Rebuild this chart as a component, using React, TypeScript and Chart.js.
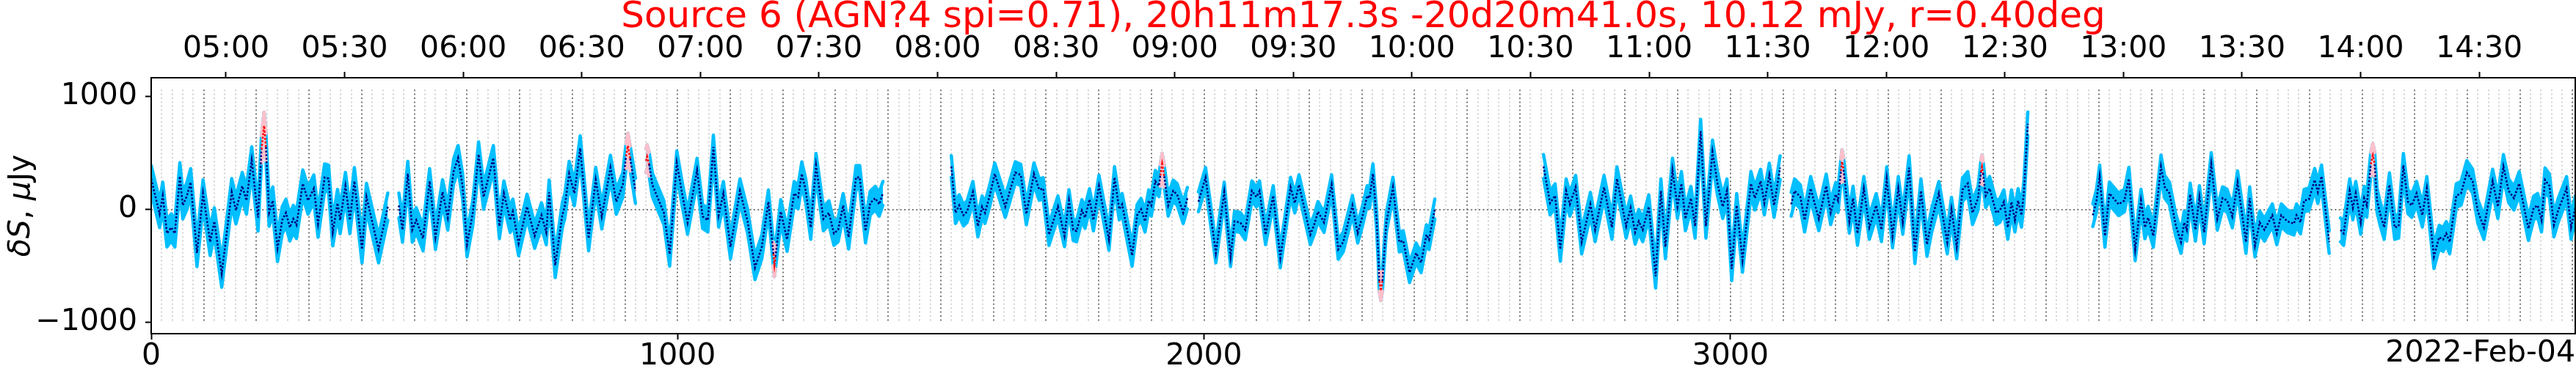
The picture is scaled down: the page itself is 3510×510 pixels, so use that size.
import React, { useEffect, useRef } from 'react';
import { Chart, registerables } from 'chart.js';

Chart.register(...registerables);

// ---------- text ----------
const TITLE = 'Source 6 (AGN?4 spi=0.71), 20h11m17.3s -20d20m41.0s, 10.12 mJy, r=0.40deg';
const DATE_LABEL = '2022-Feb-04';
const Y_LABEL_PARTS: [string, boolean][] = [['δS', true], [', ', false], ['μ', true], ['Jy', false]];

// ---------- axes ----------
const OBS_START = '04:41:04';
const SAMPLE_SECONDS = 7.99;
const TIME_TICKS = ['05:00', '05:30', '06:00', '06:30', '07:00', '07:30', '08:00', '08:30', '09:00', '09:30',
  '10:00', '10:30', '11:00', '11:30', '12:00', '12:30', '13:00', '13:30', '14:00', '14:30'];
const INDEX_TICKS = [0, 1000, 2000, 3000];
const FLUX_TICKS = [-1000, 0, 1000];
const X_MIN = 0;
const X_MAX = 4605;
const Y_MIN = -1100;
const Y_MAX = 1165;
const GRID_MINOR = 20;
const GRID_MAJOR = 100;
const GRID_SPAN = [-995, 1060];

// ---------- data: [sample index, flux in μJy] per scan ----------
const scan1 = [[0,270],[16,-41],[22,121],[30,-213],[38,-160],[45,-213],[54.5,293],[60,35],[68,121],[75,240],[87,-386],[98.5,142],[112,-289],[120,-106],[134,-569],[153,153],[161,-9],[173,207],[181,78],[191,434],[203,-73],[209.5,531],[214.5,740],[218,552],[224,-30],[231,78],[240,-343],[249,-95],[256,-30],[263.5,-160],[270,-84],[276,-138],[288,229],[298,78],[309,185],[317,-127],[329.5,283],[337,272],[345,-203],[354,56],[359,-95],[369,207],[377.5,-95],[386,250],[400.5,-354],[409,110],[432,-354],[449.5,24]];
const scan2 = [[470.5,35],[477.5,-181],[487.5,315],[496,-181],[503.5,-95],[516.5,-257],[529,250],[540,-246],[553.5,153],[563.5,-73],[574.5,336],[583,455],[591.5,207],[600,-311],[611,-30],[622,487],[631.5,110],[650,455],[661.5,-149],[670,142],[682,-95],[687,-19],[698,-300],[714,24],[728.5,-235],[741.5,-52],[750.5,-203],[756,150],[767.5,-494],[781,-52],[786,35],[794,315],[804,142],[815,541],[831,-257],[844.5,261],[856,-63],[872.5,369],[883.5,67],[896,218],[902,470],[905.5,563],[910,450],[920,164]];
const scan3 = [[940,430],[942,466],[946,400],[952,218],[974,-30],[985,-397],[998.5,412],[1008.5,142],[1019,-116],[1037,347],[1047.5,-63],[1057.5,-95],[1068,552],[1078,-52],[1087,142],[1100.5,-332],[1118.5,164],[1133,-106],[1147,-516],[1160,-332],[1172.5,67],[1182,-393],[1184,-490],[1186,-420],[1196,-19],[1208,-267],[1221.5,142],[1229,110],[1236,315],[1243.5,164],[1253,-160],[1263,390],[1277,-84],[1287.5,-30],[1297,-213],[1305,-181],[1314.5,35],[1325,-246],[1339,283],[1346,283],[1357,-192],[1366,56],[1375.5,99],[1383,45],[1390,142]];
const scan4 = [[1520,380],[1528,-30],[1535,35],[1543,-52],[1550,-19],[1561,153],[1570.5,-149],[1578.5,24],[1584,-30],[1593,121],[1602.5,315],[1622.5,24],[1641.5,326],[1652,304],[1662.5,-41],[1677,315],[1687,175],[1694.5,185],[1705.5,-224],[1722.5,24],[1735,-235],[1743.5,78],[1751.5,-181],[1758,-192],[1768,-9],[1774,-73],[1782.5,88],[1790,-95],[1800.5,207],[1819.5,-267],[1830,283],[1839,2],[1844.5,45],[1863.5,-408],[1873,-52],[1880.5,2],[1888,-106],[1895,78],[1900,35],[1907.5,250],[1914.5,207],[1917,300],[1920.5,401],[1924.5,293],[1932,35],[1941.5,164],[1949,132],[1960.5,-30],[1968.5,99]];
const scan5 = [[1989.5,67],[2003,283],[2022.5,-386],[2038.5,153],[2050.5,-418],[2058,-106],[2069,-116],[2078.5,-181],[2091,164],[2099.5,110],[2105.5,164],[2117,-224],[2131.5,121],[2145,-429],[2164.5,196],[2172.5,56],[2180.5,218],[2202,-224],[2210,-127],[2216.5,-19],[2228,-116],[2242.5,218],[2255,-354],[2264.5,-289],[2282,35],[2292,-210],[2301.5,-52],[2310,121],[2314.5,99],[2321,315],[2328,-95],[2331,-380],[2333,-634],[2336,-720],[2339,-634],[2341.5,-440],[2346.5,-116],[2359,196],[2371,-289],[2378.5,-278],[2390.5,-559],[2403,-386],[2412.5,-472],[2422.5,-224],[2427.5,-267],[2438.5,2]];
const scan6 = [[2645,380],[2657.5,56],[2667,121],[2677,-354],[2688,164],[2695,45],[2706,196],[2717.5,-289],[2734,45],[2743,-181],[2760,196],[2775,-160],[2784.5,272],[2802,-149],[2810.5,13],[2819,-203],[2826,-106],[2833.5,-181],[2845,24],[2858,-591],[2868,164],[2876.5,-332],[2890,347],[2899.5,24],[2907,229],[2914.5,-84],[2925,99],[2933,-149],[2943.5,692],[2953.5,-149],[2966,509],[2975.5,229],[2985.5,24],[2993.5,164],[3002.5,-526],[3012,35],[3023,-451],[3039,229],[3046.5,99],[3057.5,250],[3064.5,56],[3074,304],[3083,35],[3094.5,369]];
const scan7 = [[3115.5,45],[3122,164],[3133,110],[3141,-95],[3152.5,185],[3168,-84],[3182,207],[3190.5,-30],[3200,132],[3204.5,78],[3210,340],[3212,423],[3215,350],[3226,-106],[3233,99],[3241.5,-213],[3253.5,185],[3264,-160],[3277,35],[3287,-181],[3297,272],[3308,-235],[3319,185],[3327.5,-116],[3339.5,369],[3350.5,-375],[3362,164],[3373.5,-311],[3382.5,-95],[3396,142],[3412,-289],[3420,2],[3430,-332],[3441,175],[3451,229],[3460,-30],[3470.5,99],[3476,330],[3478,375],[3480,320],[3485,121],[3492.5,185],[3505,-30],[3512,-9],[3519.5,67],[3527,-160],[3534,67],[3540.5,-95],[3546.5,78],[3553,-52],[3557.5,142],[3565,757]];
const scan8 = [[3688.5,-52],[3695.5,78],[3701.5,293],[3711.5,-235],[3720,142],[3737.5,45],[3748.5,78],[3757,272],[3769,-354],[3780,78],[3787.5,-160],[3793.5,-73],[3803.5,-235],[3818,380],[3825,200],[3834,142],[3846,-138],[3856,-289],[3862,-116],[3867,-181],[3873.5,132],[3883.5,-181],[3891,110],[3900,-203],[3913.5,401],[3925,-84],[3935,99],[3943.5,78],[3953.5,-63],[3963.5,240],[3979.5,-289],[3986.5,99],[3996.5,-321],[4005.5,-116],[4014.5,-181],[4029.5,-52],[4038,-213],[4046.5,-52],[4058,-106],[4070.5,-127],[4075.5,-52],[4083,-116],[4090,78],[4099,88],[4110,261],[4116,153],[4123,293],[4137.5,-289]];
const scan9 = [[4159,-181],[4165,-213],[4176.5,164],[4182.5,13],[4188,142],[4197.5,-116],[4204,99],[4209,35],[4216.5,400],[4220.5,477],[4224,400],[4228.5,78],[4234.5,-41],[4242,-160],[4252,218],[4262,-160],[4269.5,-149],[4278.5,390],[4287,67],[4294.5,35],[4303.5,142],[4314.5,-52],[4323,185],[4336.5,-418],[4346.5,-246],[4354,-267],[4360,-213],[4366.5,-289],[4379,121],[4388,142],[4399,326],[4410,250],[4420,-19],[4431.5,-160],[4448,250],[4458,24],[4468.5,380],[4478.5,164],[4488.5,99],[4498.5,229],[4516,-170],[4526,13],[4533.5,35],[4541,-95],[4547.5,261],[4556,207],[4564.5,-138],[4572.5,-9],[4588.5,185],[4597,-160],[4605,13]];
const scans = [scan1, scan2, scan3, scan4, scan5, scan6, scan7, scan8, scan9];
// 1-sigma error per scan, μJy
const scanErr = [120, 110, 105, 95, 88, 105, 105, 100, 105];
// sample-index ranges flagged as significant (drawn red / pink)
const redRanges = [[209, 218.5], [901.5, 910.5], [939.5, 946.5], [1181.5, 1186.5], [1916.5, 1925],
  [2332.5, 2339.5], [3209.5, 3215.5], [3475.5, 3480.5], [4216, 4224.5]];

// ---------- colours ----------
const BAND = '#00BFFF';
const BAND_SIG = '#FFC0CB';
const LINE = '#000080';
const LINE_SIG = '#FF0000';
const FONT = 'DejaVu Sans';

type P = { x: number; y: number | null };

function toSec(t: string) {
  const p = t.split(':').map(Number);
  return p[0] * 3600 + p[1] * 60 + (p[2] || 0);
}
function timeToIndex(t: string) {
  return (toSec(t) - toSec(OBS_START)) / SAMPLE_SECONDS;
}
function inRed(a: number, b: number) {
  return redRanges.some(([s, e]) => a >= s && b <= e);
}

function buildSeries(offset: number): P[] {
  const out: P[] = [];
  scans.forEach((scan, s) => {
    if (s > 0) {
      const prev = scans[s - 1];
      out.push({ x: (prev[prev.length - 1][0] + scan[0][0]) / 2, y: null });
    }
    scan.forEach(([x, y]) => out.push({ x, y: y + offset * scanErr[s] }));
  });
  return out;
}
function buildRed(offset: number): P[] {
  const out: P[] = [];
  scans.forEach((scan, s) => {
    scan.forEach(([x, y]) => {
      if (redRanges.some(([a, b]) => x >= a && x <= b)) out.push({ x, y: y + offset * scanErr[s] });
    });
  });
  const res: P[] = [];
  out.forEach((p, i) => {
    if (i > 0) {
      const prevRange = redRanges.findIndex(([a, b]) => out[i - 1].x >= a && out[i - 1].x <= b);
      const curRange = redRanges.findIndex(([a, b]) => p.x >= a && p.x <= b);
      if (prevRange !== curRange) res.push({ x: (out[i - 1].x + p.x) / 2, y: null });
    }
    res.push(p);
  });
  return res;
}

const framePlugin = {
  id: 'frameAndText',
  beforeDatasetsDraw(chart: any) {
    const { ctx, chartArea: a, scales } = chart;
    const x = scales.x, y = scales.y;
    ctx.save();
    ctx.beginPath();
    ctx.rect(a.left, a.top, a.right - a.left, a.bottom - a.top);
    ctx.clip();
    const yTop = y.getPixelForValue(GRID_SPAN[1]);
    const yBot = y.getPixelForValue(GRID_SPAN[0]);
    ctx.setLineDash([2, 3.4]);
    for (let v = GRID_MINOR; v <= X_MAX; v += GRID_MINOR) {
      const major = v % GRID_MAJOR === 0;
      const px = Math.round(x.getPixelForValue(v));
      ctx.strokeStyle = major ? '#7a7a7a' : '#c8c8c8';
      ctx.lineWidth = major ? 2 : 1.6;
      ctx.beginPath();
      ctx.moveTo(px, yTop);
      ctx.lineTo(px, yBot);
      ctx.stroke();
    }
    const zy = Math.round(y.getPixelForValue(0));
    ctx.strokeStyle = '#7a7a7a';
    ctx.lineWidth = 2;
    ctx.beginPath();
    ctx.moveTo(a.left, zy);
    ctx.lineTo(a.right, zy);
    ctx.stroke();
    ctx.restore();
  },
  afterDraw(chart: any) {
    const { ctx, chartArea: a } = chart;
    ctx.save();
    ctx.strokeStyle = '#000';
    ctx.lineWidth = 2;
    ctx.setLineDash([]);
    ctx.strokeRect(a.left, a.top, a.right - a.left, a.bottom - a.top);

    ctx.fillStyle = '#FF0000';
    ctx.font = `50px "${FONT}"`;
    ctx.textAlign = 'center';
    ctx.textBaseline = 'alphabetic';
    ctx.fillText(TITLE, (a.left + a.right) / 2, 37);

    ctx.fillStyle = '#000';
    ctx.font = `41px "${FONT}"`;
    ctx.textAlign = 'right';
    ctx.fillText(DATE_LABEL, a.right, 493);

    ctx.translate(40, (a.top + a.bottom) / 2);
    ctx.rotate(-Math.PI / 2);
    ctx.textAlign = 'left';
    const fonts = Y_LABEL_PARTS.map(([, it]) => `${it ? 'italic ' : ''}41px "${FONT}"`);
    let total = 0;
    const widths = Y_LABEL_PARTS.map(([t], i) => {
      ctx.font = fonts[i];
      const w = ctx.measureText(t).width;
      total += w;
      return w;
    });
    let cx = -total / 2;
    Y_LABEL_PARTS.forEach(([t], i) => {
      ctx.font = fonts[i];
      ctx.fillText(t, cx, 0);
      cx += widths[i];
    });
    ctx.restore();
  },
};

export default function App() {
  const ref = useRef<HTMLCanvasElement>(null);
  useEffect(() => {
    if (!ref.current) return;
    const lineData = buildSeries(0);
    const tickFont = { family: FONT, size: 41, lineHeight: 1 };
    const tickGrid = {
      display: true, drawOnChartArea: false, drawTicks: true, tickLength: 8,
      tickWidth: 2, tickColor: '#000', color: '#000',
    };
    const edge = { borderWidth: 4.5, pointRadius: 0, spanGaps: false, borderJoinStyle: 'round', borderCapStyle: 'round' };
    const chart = new Chart(ref.current, {
      type: 'line',
      data: {
        datasets: [
          {
            data: lineData as any,
            borderColor: LINE,
            borderWidth: 2.6,
            borderDash: [2.6, 2.3],
            pointRadius: 0,
            fill: false,
            spanGaps: false,
            segment: {
              borderColor: (c: any) =>
                inRed(lineData[c.p0DataIndex].x, lineData[c.p1DataIndex].x) ? LINE_SIG : LINE,
            },
          } as any,
          { ...edge, data: buildRed(1) as any, borderColor: BAND_SIG, fill: '+1', backgroundColor: BAND_SIG } as any,
          { ...edge, data: buildRed(-1) as any, borderColor: BAND_SIG, fill: false } as any,
          { ...edge, data: buildSeries(1) as any, borderColor: BAND, fill: '+1', backgroundColor: BAND } as any,
          { ...edge, data: buildSeries(-1) as any, borderColor: BAND, fill: false } as any,
        ],
      },
      options: {
        animation: false,
        responsive: false,
        maintainAspectRatio: false,
        devicePixelRatio: 1,
        layout: { padding: { left: 0, right: 1, top: 0, bottom: 0 } },
        elements: { line: { tension: 0 }, point: { radius: 0 } },
        plugins: { legend: { display: false }, tooltip: { enabled: false }, title: { display: false } },
        scales: {
          x: {
            type: 'linear', position: 'bottom', min: X_MIN, max: X_MAX,
            afterBuildTicks: (s: any) => { s.ticks = INDEX_TICKS.map((v) => ({ value: v })); },
            afterFit: (s: any) => { s.height = 55; },
            ticks: { font: tickFont, color: '#000', padding: 3, maxRotation: 0, autoSkip: false, callback: (v: any) => String(v) },
            grid: tickGrid, border: { display: false },
          },
          x2: {
            type: 'linear', position: 'top', min: X_MIN, max: X_MAX,
            afterBuildTicks: (s: any) => { s.ticks = TIME_TICKS.map((t) => ({ value: timeToIndex(t) })); },
            afterFit: (s: any) => { s.height = 106; },
            ticks: { font: tickFont, color: '#000', padding: 10, maxRotation: 0, autoSkip: false, callback: (_v: any, i: number) => TIME_TICKS[i] },
            grid: tickGrid, border: { display: false },
          },
          y: {
            type: 'linear', position: 'left', min: Y_MIN, max: Y_MAX,
            afterBuildTicks: (s: any) => { s.ticks = FLUX_TICKS.map((v) => ({ value: v })); },
            afterFit: (s: any) => { s.width = 206; },
            ticks: { font: tickFont, color: '#000', padding: 11, callback: (v: any) => (v < 0 ? '\u2212' + Math.abs(v) : String(v)) },
            grid: tickGrid, border: { display: false },
          },
        },
      } as any,
      plugins: [framePlugin],
    });
    return () => chart.destroy();
  }, []);
  return (
    <div style={{ position: 'absolute', left: 0, top: 0, width: 3510, height: 510, background: '#fff' }}>
      <canvas ref={ref} width={3510} height={510} style={{ width: 3510, height: 510, display: 'block' }} />
    </div>
  );
}
